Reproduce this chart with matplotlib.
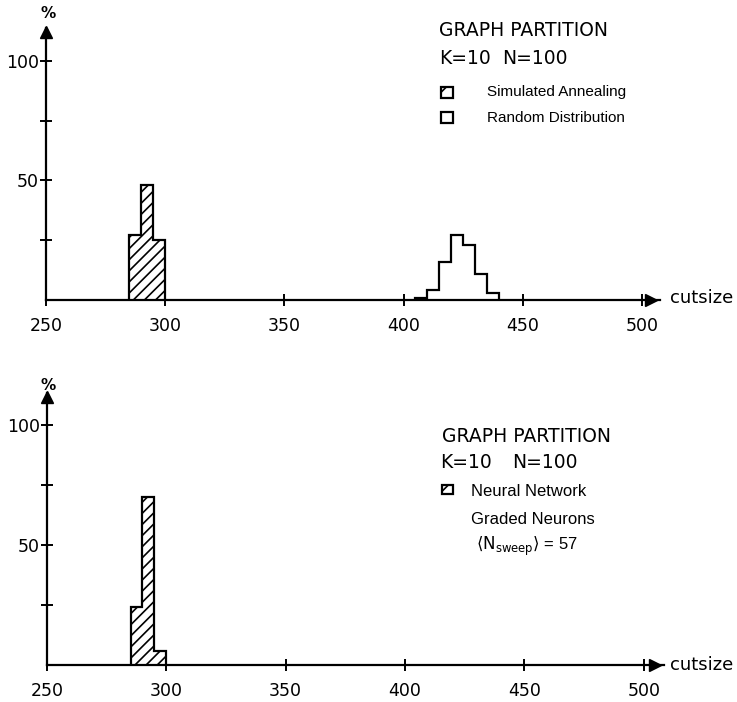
import matplotlib
matplotlib.use("Agg")
from matplotlib import pyplot as plt
from matplotlib.patches import Rectangle

# histogram of cut sizes, bins of width 5
sa_edges = [285, 290, 295, 300]
sa_pct = [27, 48, 25]  # simulated annealing

rd_edges = [405, 410, 415, 420, 425, 430, 435, 440]
rd_pct = [1, 4, 16, 27, 23, 11, 3]  # random distribution

nn_edges = [285, 290, 295, 300]
nn_pct = [24, 70, 6]  # neural network, graded neurons

xticks = [250, 300, 350, 400, 450, 500]
yticks = [25, 50, 75, 100]
ylabels = ["", "50", "", "100"]

W, H = 737, 702
plt.rcParams["hatch.linewidth"] = 1.2
plt.rcParams["font.family"] = "DejaVu Sans"

fig = plt.figure(figsize=(W / 100, H / 100), dpi=100)


def fx(p):
    return p / W


def fy(p):
    return 1 - p / H


LEG_FONT = "Liberation Sans"
LEG_SIZE = 11
HEAD_SIZE = 13.5


def make_axes(left, base, tip_x, tip_y, xmax, ymax):
    ax = fig.add_axes([fx(left), fy(base), (tip_x - left) / W, (base - tip_y) / H])
    ax.set_xlim(250, xmax)
    ax.set_ylim(0, ymax)
    for s in ["top", "right"]:
        ax.spines[s].set_visible(False)
    for s in ["left", "bottom"]:
        ax.spines[s].set_linewidth(1.6)
    ax.set_xticks(xticks)
    ax.set_yticks(yticks, ylabels)
    ax.tick_params(direction="inout", length=8, width=1.4, labelsize=12.5)
    ax.tick_params(axis="x", pad=8)
    ax.tick_params(axis="y", pad=1)
    ax.patch.set_alpha(0)
    # arrow heads at the end of both axes
    ax.plot([0.985], [0], marker=">", ms=9, color="black",
            transform=ax.transAxes, clip_on=False)
    ax.plot([0], [0.985], marker="^", ms=9, color="black",
            transform=ax.transAxes, clip_on=False)
    return ax


# top panel: simulated annealing vs random distribution
ax1 = make_axes(46, 300, 660, 28, 507.6, 113.8)
ax1.stairs(sa_pct, sa_edges, fill=True, facecolor="white", edgecolor="black",
           hatch="///", linewidth=1.6)
ax1.stairs(rd_pct, rd_edges, color="black", linewidth=1.6)

# bottom panel: neural network
ax2 = make_axes(47, 665, 664, 393, 508.5, 113.3)
ax2.stairs(nn_pct, nn_edges, fill=True, facecolor="white", edgecolor="black",
           hatch="///", linewidth=1.6)

for base in [298, 665]:
    fig.text(fx(670), fy(base), "cutsize", va="center", ha="left", fontsize=13)
for pct_y in [14, 385]:
    fig.text(fx(48), fy(pct_y), "%", va="center", ha="center",
             fontsize=11, weight="bold")

# annotations, top
fig.text(fx(439), fy(31), "GRAPH PARTITION", va="center", fontsize=HEAD_SIZE)
fig.text(fx(439), fy(58), "K=10", va="center", fontsize=HEAD_SIZE)
fig.text(fx(502), fy(58), "N=100", va="center", fontsize=HEAD_SIZE)
fig.add_artist(Rectangle((fx(441), fy(98)), 12 / W, 11 / H, transform=fig.transFigure,
                         facecolor="white", edgecolor="black", hatch="/", linewidth=1.6))
fig.text(fx(487), fy(92), "Simulated Annealing", va="center", fontsize=LEG_SIZE,
         family=LEG_FONT)
fig.add_artist(Rectangle((fx(441), fy(123)), 12 / W, 11 / H, transform=fig.transFigure,
                         facecolor="white", edgecolor="black", linewidth=1.6))
fig.text(fx(487), fy(118), "Random Distribution", va="center", fontsize=LEG_SIZE,
         family=LEG_FONT)

# annotations, bottom
fig.text(fx(442), fy(436), "GRAPH PARTITION", va="center", fontsize=HEAD_SIZE)
fig.text(fx(440), fy(463), "K=10", va="center", fontsize=HEAD_SIZE)
fig.text(fx(512), fy(463), "N=100", va="center", fontsize=HEAD_SIZE)
fig.add_artist(Rectangle((fx(442), fy(494)), 11 / W, 9 / H, transform=fig.transFigure,
                         facecolor="white", edgecolor="black", hatch="/", linewidth=1.6))
fig.text(fx(471), fy(492), "Neural Network", va="center", fontsize=LEG_SIZE + 1,
         family=LEG_FONT)
fig.text(fx(471), fy(519), "Graded Neurons", va="center", fontsize=LEG_SIZE + 1,
         family=LEG_FONT)
fig.text(fx(476), fy(546), r"$\langle \mathrm{N}_{\mathrm{sweep}} \rangle$ = 57",
         va="center", fontsize=LEG_SIZE + 1, family=LEG_FONT)

fig.savefig("out.png", dpi=100)
